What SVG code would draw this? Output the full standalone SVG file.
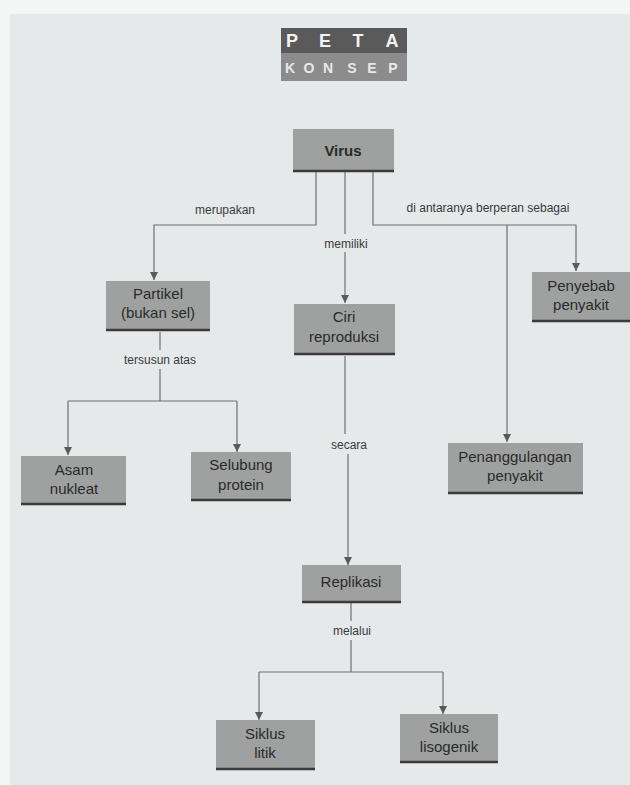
<svg xmlns="http://www.w3.org/2000/svg" width="630" height="785" viewBox="0 0 630 785">
  <defs>
    <style>
      .box { fill: #9fa1a0; }
      .base { stroke: #3a3a3a; stroke-width: 2.5; }
      .nt { font-family: "Liberation Sans", Arial, sans-serif; font-size: 15px; fill: #2a2a2a; text-anchor: middle; }
      .lbl { font-family: "Liberation Sans", Arial, sans-serif; font-size: 12px; fill: #3a3a3a; text-anchor: middle; }
      .con { fill: none; stroke: #707070; stroke-width: 1.2; }
      .tt { font-family: "Liberation Sans", Arial, sans-serif; font-weight: bold; text-anchor: middle; }
    </style>
    <marker id="arr" viewBox="0 0 10 10" refX="10" refY="5" markerWidth="9" markerHeight="8" orient="auto" markerUnits="userSpaceOnUse">
      <path d="M0,0 L10,5 L0,10 Z" fill="#5a5a5a"/>
    </marker>
  </defs>

  <rect x="0" y="0" width="630" height="785" fill="#f4f6f6"/>
  <rect x="10" y="14" width="620" height="771" fill="#e5e9e9"/>

  <g id="title">
    <rect x="281" y="28" width="126" height="25" fill="#5a5a5a"/>
    <rect x="281" y="53" width="126" height="28" fill="#8c8c8c"/>
    <text class="tt" x="292" y="47" font-size="18" fill="#f2f2f2">P</text>
    <text class="tt" x="325" y="47" font-size="18" fill="#f2f2f2">E</text>
    <text class="tt" x="358" y="47" font-size="18" fill="#f2f2f2">T</text>
    <text class="tt" x="392" y="47" font-size="18" fill="#f2f2f2">A</text>
    <text class="tt" x="290" y="73" font-size="14" font-weight="normal" fill="#e8e8e8">K</text>
    <text class="tt" x="309" y="73" font-size="14" font-weight="normal" fill="#e8e8e8">O</text>
    <text class="tt" x="328" y="73" font-size="14" font-weight="normal" fill="#e8e8e8">N</text>
    <text class="tt" x="352" y="73" font-size="14" font-weight="normal" fill="#e8e8e8">S</text>
    <text class="tt" x="372" y="73" font-size="14" font-weight="normal" fill="#e8e8e8">E</text>
    <text class="tt" x="393" y="73" font-size="14" font-weight="normal" fill="#e8e8e8">P</text>
  </g>

  <g id="connectors">
    <path class="con" d="M316,172 V225 H154 V280" marker-end="url(#arr)"/>
    <path class="con" d="M345,172 V234"/>
    <path class="con" d="M345,252 V303" marker-end="url(#arr)"/>
    <path class="con" d="M373,172 V225 H576 V271" marker-end="url(#arr)"/>
    <path class="con" d="M507,225 V442" marker-end="url(#arr)"/>
    <path class="con" d="M160,332 V350"/>
    <path class="con" d="M160,369 V401"/>
    <path class="con" d="M68,401 H237"/>
    <path class="con" d="M68,401 V455" marker-end="url(#arr)"/>
    <path class="con" d="M237,401 V452" marker-end="url(#arr)"/>
    <path class="con" d="M345,356 V434"/>
    <path class="con" d="M348,454 V565" marker-end="url(#arr)"/>
    <path class="con" d="M351,602 V621"/>
    <path class="con" d="M351,640 V672"/>
    <path class="con" d="M259,672 H443"/>
    <path class="con" d="M259,672 V720" marker-end="url(#arr)"/>
    <path class="con" d="M443,672 V714" marker-end="url(#arr)"/>
    <text class="lbl" x="225" y="214">merupakan</text>
    <text class="lbl" x="346" y="248">memiliki</text>
    <text class="lbl" x="488" y="212">di antaranya berperan sebagai</text>
    <text class="lbl" x="160" y="364">tersusun atas</text>
    <text class="lbl" x="349" y="449">secara</text>
    <text class="lbl" x="352" y="635">melalui</text>
  </g>

  <g id="virus">
    <rect class="box" x="293" y="129" width="101" height="43"/>
    <line class="base" x1="293" y1="171" x2="394" y2="171"/>
    <text class="nt" x="343" y="156" font-weight="bold" font-size="16">Virus</text>
  </g>

  <g id="partikel">
    <rect class="box" x="106" y="281" width="104" height="50"/>
    <line class="base" x1="106" y1="330" x2="210" y2="330"/>
    <text class="nt" x="158" y="299">Partikel</text>
    <text class="nt" x="158" y="318">(bukan sel)</text>
  </g>

  <g id="ciri">
    <rect class="box" x="294" y="304" width="101" height="51"/>
    <line class="base" x1="294" y1="354" x2="395" y2="354"/>
    <text class="nt" x="344" y="322">Ciri</text>
    <text class="nt" x="344" y="342">reproduksi</text>
  </g>

  <g id="penyebab">
    <rect class="box" x="532" y="272" width="98" height="50"/>
    <line class="base" x1="532" y1="321" x2="630" y2="321"/>
    <text class="nt" x="581" y="291">Penyebab</text>
    <text class="nt" x="581" y="310">penyakit</text>
  </g>

  <g id="asam">
    <rect class="box" x="21" y="456" width="105" height="49"/>
    <line class="base" x1="21" y1="504" x2="126" y2="504"/>
    <text class="nt" x="74" y="475">Asam</text>
    <text class="nt" x="74" y="494">nukleat</text>
  </g>

  <g id="selubung">
    <rect class="box" x="191" y="452" width="100" height="49"/>
    <line class="base" x1="191" y1="500" x2="291" y2="500"/>
    <text class="nt" x="241" y="470">Selubung</text>
    <text class="nt" x="241" y="490">protein</text>
  </g>

  <g id="penanggulangan">
    <rect class="box" x="448" y="443" width="135" height="51"/>
    <line class="base" x1="448" y1="493" x2="583" y2="493"/>
    <text class="nt" x="515" y="462">Penanggulangan</text>
    <text class="nt" x="515" y="481">penyakit</text>
  </g>

  <g id="replikasi">
    <rect class="box" x="302" y="565" width="99" height="38"/>
    <line class="base" x1="302" y1="602" x2="401" y2="602"/>
    <text class="nt" x="351" y="587">Replikasi</text>
  </g>

  <g id="siklus-litik">
    <rect class="box" x="216" y="720" width="99" height="50"/>
    <line class="base" x1="216" y1="769" x2="315" y2="769"/>
    <text class="nt" x="265" y="739">Siklus</text>
    <text class="nt" x="265" y="758">litik</text>
  </g>

  <g id="siklus-lisogenik">
    <rect class="box" x="400" y="714" width="98" height="49"/>
    <line class="base" x1="400" y1="762" x2="498" y2="762"/>
    <text class="nt" x="449" y="733">Siklus</text>
    <text class="nt" x="449" y="752">lisogenik</text>
  </g>
</svg>
